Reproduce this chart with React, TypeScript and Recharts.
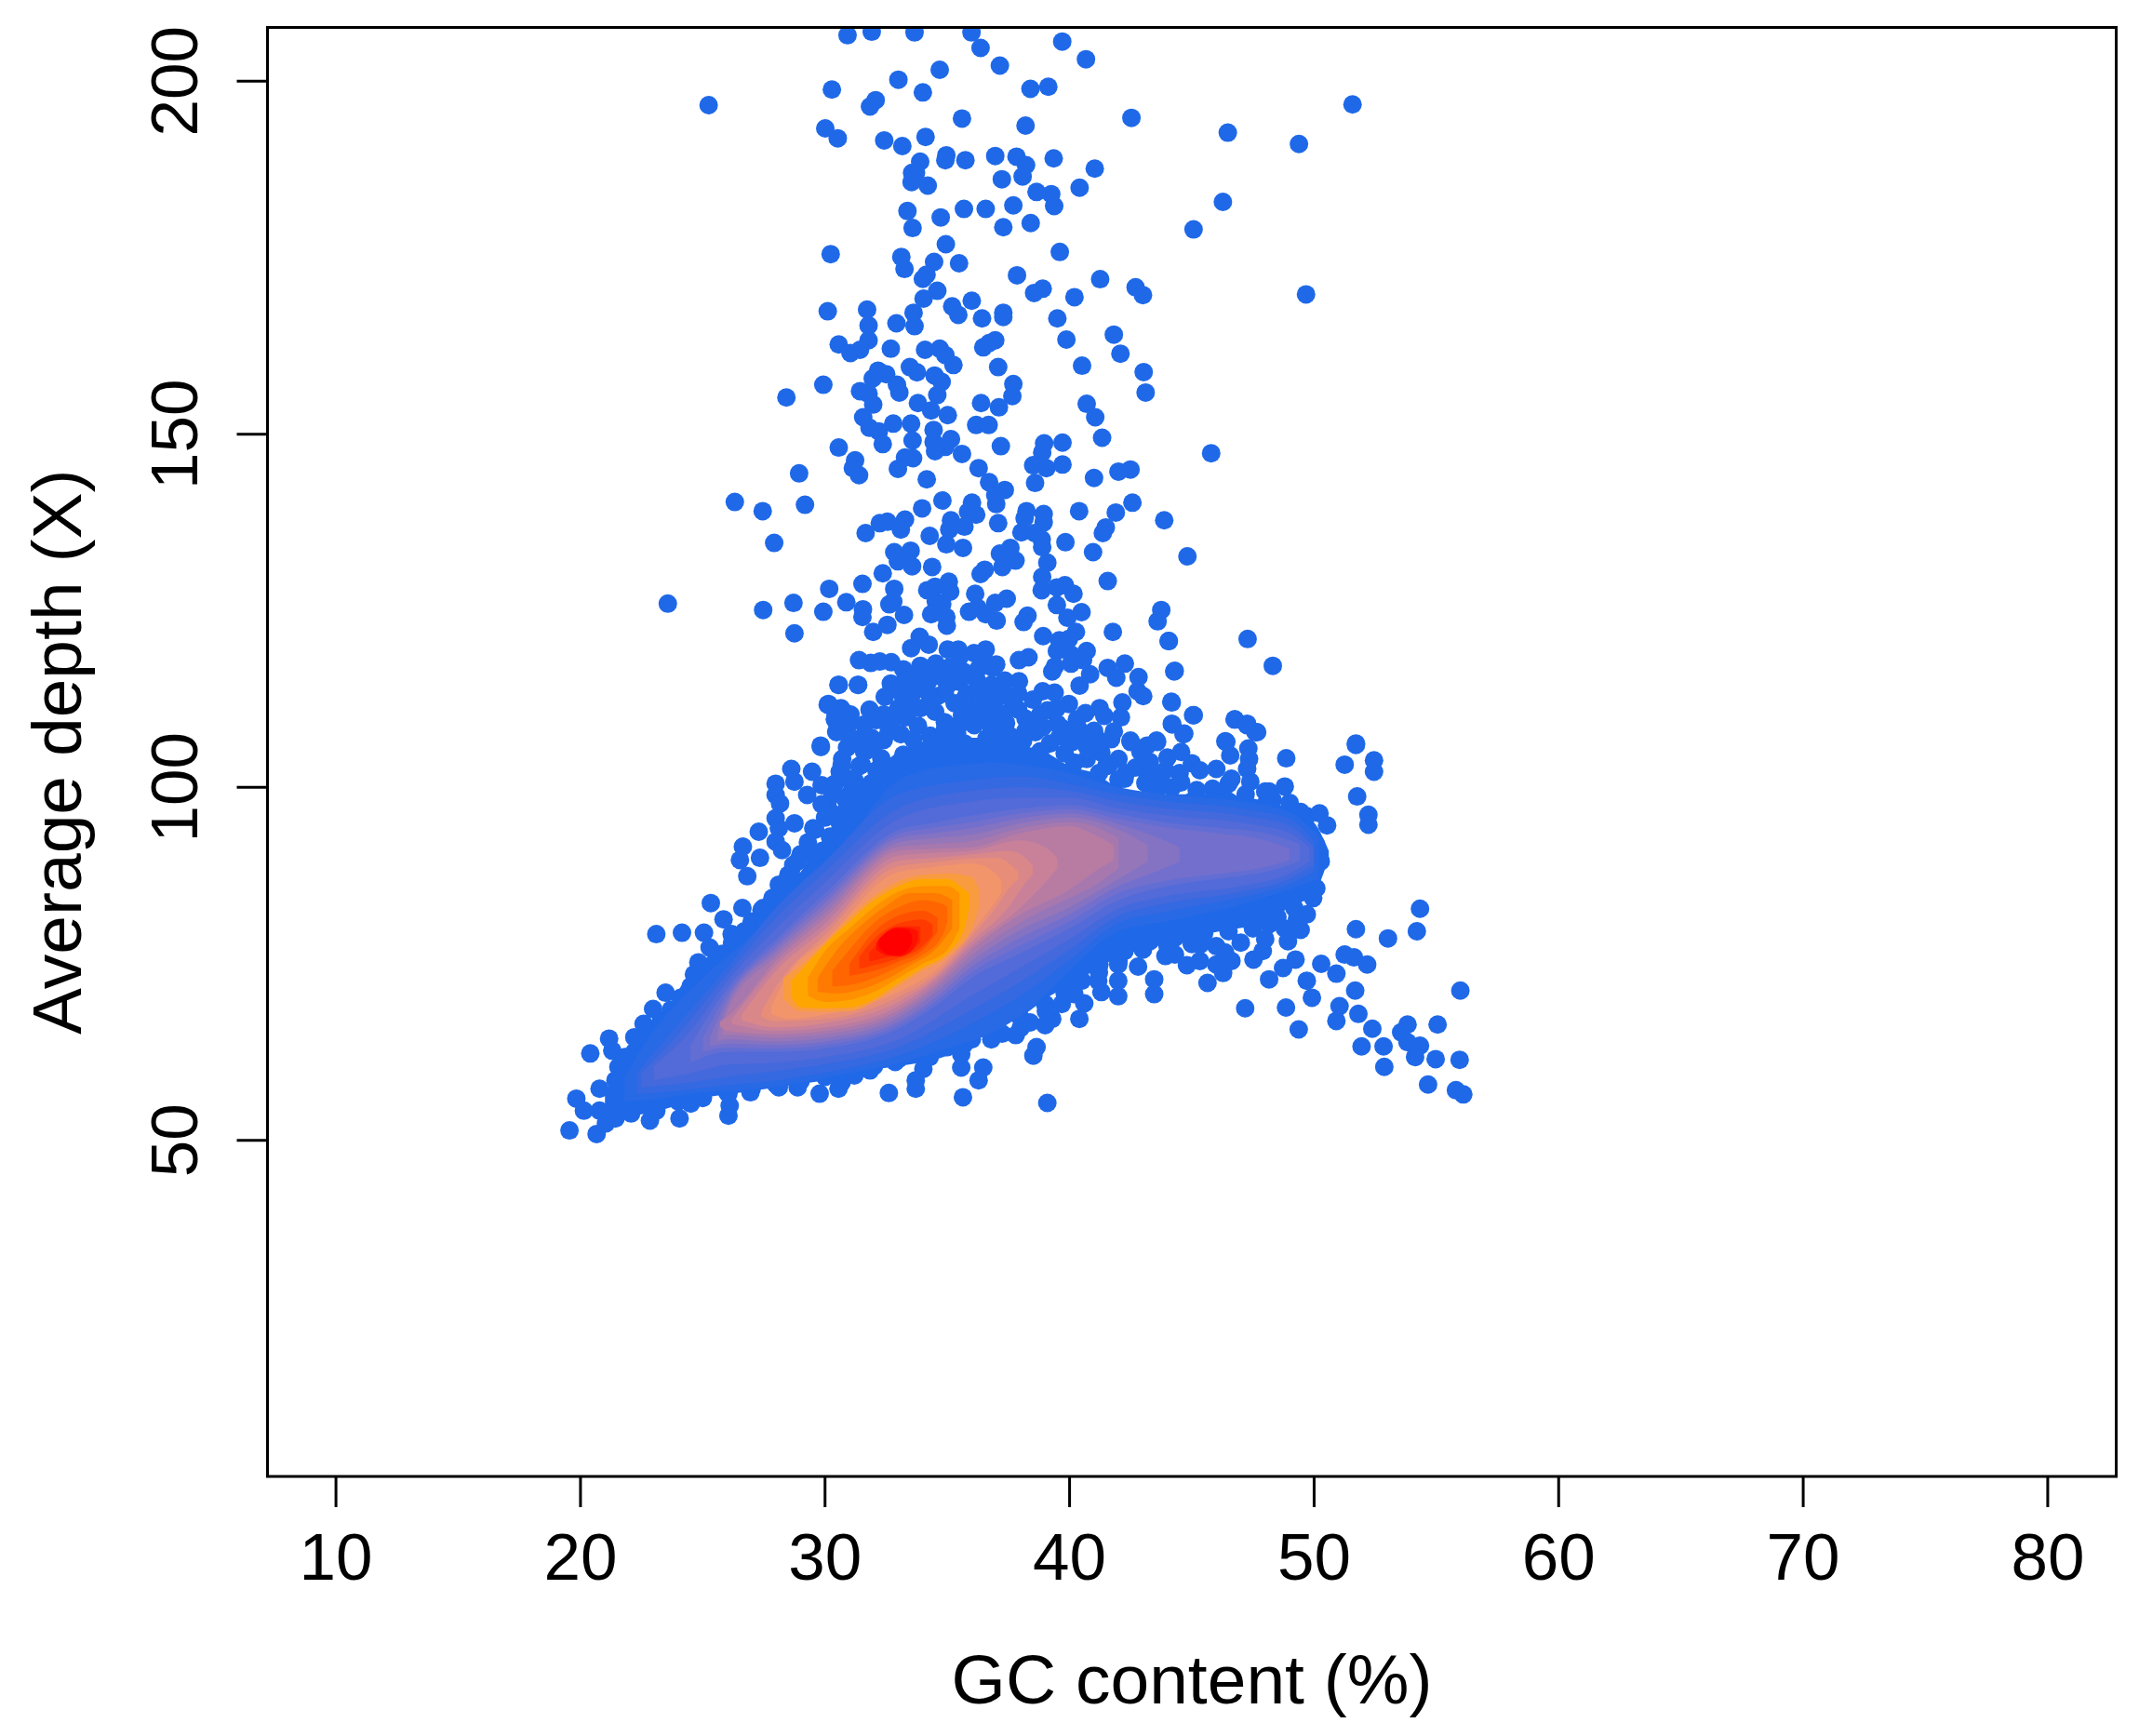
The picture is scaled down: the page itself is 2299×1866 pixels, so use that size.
import { ComposedChart, Area, Scatter, XAxis, YAxis, ReferenceArea } from "recharts";

type Pair = [number, number];
type Span = [number, number, number]; // x, low, high

const X_TICKS = [10, 20, 30, 40, 50, 60, 70, 80];
const Y_TICKS = [50, 100, 150, 200];

// sparse points above the main cloud
const SPARSE_TOP: Pair[] = [
  [30.92,206.5],[31.91,207],[33.66,206.9],[35.99,206.9],[36.36,204.7],[39.7,205.6],[40.67,203.1],[37.15,202.2],[34.69,201.6],[33,200.2],
  [34,198.4],[30.28,198.8],[38.4,198.9],[39.13,199.2],[25.24,196.6],[51.57,196.7],[32.07,197.3],[31.84,196.4],[35.6,194.7],[38.2,193.7],
  [42.53,194.8],[30.01,193.3],[30.52,191.9],[32.42,191.6],[33.16,190.8],[34.11,192.1],[46.47,192.7],[49.38,191.1],[34.96,189.5],[34.92,188.8],
  [35.74,188.8],[36.96,189.4],[37.83,189.3],[38.22,188.1],[39.35,189.05],[41.03,187.6],[33.89,188.6],[33.72,187],[33.56,187],[33.54,185.7],
  [34.2,185.2],[37.23,186.1],[38.08,186.5],[38.65,184.3],[39.25,184],[39.37,182.3],[40.41,184.9],[46.27,182.9],[45.07,179],[33.37,181.6],
  [34.73,180.7],[35.68,181.9],[36.57,181.9],[37.7,182.4],[33.58,179.2],[37.29,179.3],[38.41,179.9],[34.94,176.9],[30.23,175.5],[39.6,175.8],
  [33.12,175.1],[33.25,173.4],[34.46,174.4],[35.48,174.2],[37.85,172.5],[34.15,172.6],[34,172],[41.25,171.95],[42.7,170.8],[43,169.7],
  [38.9,170.6],[38.55,170],[40.2,169.4],[34.59,170.3],[34.03,169.2],[49.67,169.8],[35.2,168.1],[35.45,166.9],[36,168.9],[36.42,166.4],
  [37.29,167.2],[37.29,166.6],[39.5,166.4],[30.11,167.4],[31.72,167.65],[31.78,165.4],[33.62,167.2],[32.92,165.7],[33.66,165.3],[31.78,163.3],
  [30.56,162.7],[31.04,161.5],[31.43,161.95],[32.69,162.1],[34.09,161.95],[34.69,162.1],[34.92,161.2],[35.25,159.8],[36.47,162.3],[36.96,163.3],
  [36.71,162.9],[39.87,163.4],[41.81,164.1],[42.08,161.4],[37.08,159.5],[43.03,158.8],[43.11,155.9],[40.51,159.7],[33.47,159.5],[33.76,158.75],
  [32.17,159],[32.5,158.5],[31.95,157.9],[34.48,158.3],[34.77,157.4],[32.94,157],[33.04,155.9],[37.7,157.1],[37.66,155.4],[34.59,155.55],
  [29.93,157],[28.42,155.2],[31.43,156.1],[31.78,155.7],[31.97,154.2],[33.8,154.4],[34.34,153.35],[35.02,152.7],[36.38,154.4],[37.11,153.8],
  [40.7,154.3],[41.05,152.4],[31.56,152.4],[32.79,151.5],[33.52,151.5],[36.18,151.3],[36.69,151.3],[34.44,150.6],
];

const SPARSE_MID: Pair[] = [
  [31.82,150.9],[32.2,150.4],[33.58,149.1],[32.36,148.6],[30.56,148.1],[41.33,149.5],[38.96,148.7],[39.71,148.8],[35.15,149.3],[34.44,148.9],
  [34.92,148.2],[34.5,147.6],[37.19,148.3],[35.6,147.2],[45.79,147.3],[38.88,147.4],[31.23,146.3],[33.27,146.7],[33.6,146.6],[32.98,145.1],
  [36.28,145.2],[38.51,145.6],[39.05,145.2],[39.71,145.7],[31.14,145.2],[31.39,144.2],[28.94,144.45],[34.16,143.6],[42.49,145],[42,144.7],
  [41,143.8],[38.59,143.1],[36.71,143.2],[37.35,142.1],[36.96,141.4],[37,140.1],[34.8,140.6],[42.57,140.3],[26.31,140.4],[29.18,140],
  [27.45,139.1],[41.89,138.9],[33.97,139.5],[36.01,140.3],[35.85,139],[36.18,138.6],[38.24,139.1],[38.94,138.7],[38.16,138.1],[40.39,139.1],
  [43.87,137.8],[35.15,137.8],[33.27,137.9],[32.24,137.4],[32.55,137.6],[33.1,136.5],[35.7,136.9],[35.08,136.5],[37.08,137.4],[38.94,137.5],
  [41.48,136.8],[41.36,136],[31.66,136],[38.03,136.1],[38.57,136],[34.28,135.6],[27.92,134.6],[34.96,134.4],[35.64,133.9],[38.86,135.1],
  [38.88,134],[39.83,134.7],[40.96,133.3],[44.82,132.7],[37.58,133.9],[37.15,133.1],[37.79,132.1],[37.25,131.2],[32.83,133.3],[33.5,133.5],
  [32.98,132],[33.56,131.3],[39.09,131.8],[34.38,131.2],[36.53,130.8],[36.36,130.2],[32.36,130.3],[38.88,129.8],[41.56,129.2],[31.53,128.8],
  [30.17,128.1],[35.06,129.1],[32.83,128.1],[34.18,127.9],[34.5,128.4],[35.12,127.7],[36.14,127.4],[38.86,127.9],[39.48,128.3],[39.81,128.6],
  [40.16,127.4],[37.43,126.7],[23.57,126],[28.71,126.1],[30.87,126.2],[32.79,126.3],[32.63,125.9],[34.53,126.3],[34.79,125.9],[36.96,126.1],
  [39.48,125.8],[43.75,125.1],[43.6,123.5],[27.47,125.1],[29.93,124.85],[31.55,125.2],[31.53,124.1],[33.23,124.4],[35.89,124.85],[36.24,125.4],
  [36.57,124.5],[34.34,124.5],[34.96,124.1],[37.02,123.6],[38.28,124.3],[38.12,123.4],[40.49,124.8],[39.91,124],[28.75,121.8],[32.55,123],
  [31.97,122],[34.98,122.9],[41.77,122],[38.92,121.4],[40.26,122],[39.58,120.8],[39.97,121],[44.06,120.7],[47.28,121],[33.87,121.3],
  [34.24,120.2],[33.52,119.7],[35.02,119.5],[35.45,119.5],[36.57,119.5],[36.09,119],[39.48,119.3],[40.7,119.3],[40.06,118.8],[38.32,118.4],
  [37.93,118],[31.39,118],[31.87,117.6],[32.24,117.8],[32.71,117.7],[48.31,117.2],[34.53,117.5],[35.5,118.4],[36.47,118],[36.86,116.9],
  [39.4,117.1],[39.29,116.4],[40.06,117.5],[40.55,118],[41.56,116.9],[42.26,117.5],[41.91,115.5],[40.84,116],[42.82,115.6],[44.28,116.4],
  [40.41,114.4],[30.56,114.5],[31.35,114.5],[32.69,114.7],[33.52,115.8],[34.15,116.2],[35.5,114.9],[37.35,115.1],[37.93,115],[37.15,113.6],
  [36.47,113.2],[38.9,113.6],[39.39,113.4],[39.97,111.8],[42.78,113.6],[43.01,112.9],[44.16,112.1],[42.16,112],[41.23,111.2],[40.65,110.5],
  [41.42,110.1],[42.1,109.9],[45.05,110.2],[46.76,109.6],[47.25,108.8],[47.67,107.8],[44.2,108.9],[44.66,107.5],[51.71,106.2],[46.37,106.5],
  [32.44,112.8],[30.11,111.7],[30.65,111.2],[31.04,110.3],[30.4,109.6],[30.46,107.9],[30.94,108.8],[31.82,111],[32.4,110.3],[32.5,109.2],
  [29.82,105.9],[31.23,106.8],[31.72,107],[33.37,110.3],[38.8,110.3],[38.7,109.2],[39.48,111.2],[37.21,110.3],[39.73,108.3],[40.36,108.3],
  [41.09,107],[41.81,107.9],[42.49,106.6],[43.56,106.6],[43.17,105.9],
];

// packed points just above the ridge
const DENSE_CROWN: Pair[] = [
  [33.1,113.4],[33.5,112.1],[34.1,113.8],[33.9,111.2],[34.6,112.9],[35,114.4],[35.3,111.9],[34.5,110.7],[35.8,113.2],[36.2,111.3],
  [36.6,112.6],[33.3,109.9],[33.8,108.7],[34.9,109.2],[35.6,110.2],[36.1,108.8],[36.9,110.6],[37.4,109.1],[37.7,111.6],[38.2,109.7],
  [38.6,107.8],[39.1,110.9],[37,107.7],[35.4,107.6],[34.3,107.3],[33.1,107.5],[32.7,108.8],[32.4,106.7],[39.6,107.2],[38.1,106.6],
  [36.6,106.9],[40.1,106.4],[40.7,105.8],[41.3,104.9],[42,104],[42.7,102.8],[43.5,101.8],[31.7,105.2],[32.3,104.1],[31.5,103.2],
  [32.1,102.4],[31.2,100.2],[31.9,100.6],[31.4,97.3],[30.9,95],[37.9,113.3],[38.5,112.4],[36.4,113.9],[35.1,115.5],[33.8,115],
  [34.7,115.7],[39.5,109],[40.3,109.6],[41,108],[41.7,106.8],[42.9,105],[44,104.2],[45,103.4],[46,102.6],[44.5,102],
  [43.2,101.5],[46.5,100.5],[48,99.4],[49,97.8],[49.7,95.9],
  [33.2,116.7],[33.9,117.2],[34.5,116.8],[35.1,117],[35.7,116.3],[36.3,116.9],[37,117.4],[33.3,115.5],[34.2,114.9],[34.9,113.3],
  [35.6,115.8],[36.2,115.2],[36.8,114.5],[37.4,113],[37.9,111],[33,111.2],[32.8,110.3],[33.6,113.4],[34.3,112.2],[35.7,112.5],
  [36.9,111.8],[37.3,110.4],[38.2,108],[38.9,108.5],[39.2,106.2],[39.9,107.9],[40.5,107.2],[41.2,106.2],[34.9,108.2],[35.5,108.9],
  [36.3,110],[36.8,108.5],[37.6,107.2],[33.6,106.8],[34.6,106.5],[35.7,106.2],[36.9,105.9],[37.9,105.5],[38.8,105.1],[39.8,104.8],
  [40.7,104],[41.5,103],[42.3,102],[43.1,100.6],[44.2,100],[45.2,99.6],[46.2,99.2],[47.2,99],[48.3,98.2],[49.2,96.3],
  [32,106],[32.6,107.8],[31.6,108.9],[32.1,109.5],[33.2,104.6],[40.2,103.5],[41.2,102],[42,101.1],
];

// upper-left edge of the cloud
const LEFT_EDGE: Pair[] = [
  [21.8,60.8],[22.2,62.5],[22.5,64],[22.9,65.5],[23.3,67],[23.7,68.5],[24.1,70.2],[24.5,71.8],[24.9,73.3],[25.4,74.9],
  [25.8,76.4],[26.2,78],[26.7,79.6],[27,81],[27.4,82.6],[28.1,84.3],[28.3,86],[28.5,87.6],[28.7,89],[29,90.5],
  [29.3,92.2],[29.6,94],[30,95.7],[30.1,97.5],[30.3,99],[30.4,100.5],[30.6,102.2],[30.7,104],[30.9,105.6],[31,107],
  [22.5,61],[23,63],[23.4,65],[23.9,67],[24.4,69],[25,71],[25.5,73],[26,75],[26.5,77],[27,79],
  [27.5,81],[28,83],[28.9,85],[29.3,87],[29.6,89],[29.9,91],[30.2,93],[30.6,95],[30.9,97],[31,99],
  [31.2,101],[31.4,103],[31.6,105],[31.9,107],
];

// lower edge of the cloud
const LOWER_EDGE: Pair[] = [
  [24,55.5],[25,56],[26,56.8],[27,57.3],[28,57.9],[29,58.4],[30,59],[31,59.6],[32,60.5],[33,61.5],
  [34,62.5],[35,63.2],[36,64.3],[37,65.9],[38,67.3],[39,69.3],[39.8,70.8],[40.5,72.6],[41.2,73.8],[42,75.4],
  [43,77],[44,77.6],[45,77.8],[46,77.5],[47,78],[48,78.5],[48.8,80],[49.3,81.4],[44.5,79.2],[45.5,79.3],
  [46.5,79.6],[47.5,80],[48.5,81.6],[43.5,78.8],[42.6,78],[38,65.9],[36.8,64.3],[37.8,64.9],[39,66.3],[40.6,69.4],
  [41.3,71],[42.8,74.6],[44.8,74.8],[46,74.9],
];

// jagged rim of the cloud and stragglers below it
const RIM_POINTS: Pair[] = [
  [19.55,51.4],[20.66,50.9],[21.04,52.4],[21.43,53.1],[19.83,55.9],[20.14,54.2],[20.78,57.3],[20.4,62.3],[21.17,64.4],[21.3,62.7],
  [20.78,54.2],[21.68,54.2],[22.84,52.8],[24.05,53.1],[22.07,53.8],[23.1,54.2],[26.05,53.5],[26.1,54.9],[24.51,55.2],[25,56.1],
  [26.05,56.6],[26.95,56.8],[28.11,57.5],[28.88,57.5],[29.78,56.6],[30.55,57.3],[30.68,58.2],[32.61,56.7],[33.71,57.3],[33.71,58.5],
  [35.64,56.1],[39.09,55.3],[36.28,58.5],[36.47,60.3],[35.57,60.3],[34.02,60.1],[32.87,61.1],[31.84,59.9],[31.2,59.2],[34.28,61.8],
  [35.57,62.2],[35.69,63.6],[37.24,65.1],[38.65,63.2],[38.52,62],[38.39,66.7],[39.29,67.2],[40.4,67.2],[39.03,68.3],[39.68,69.3],
  [40.19,70.7],[41.17,72.6],[41.99,72.6],[41.99,70.4],[43.46,72.8],[43.46,70.7],[41.99,74.9],[43.92,76.1],[44.31,76.3],[45.33,75.4],
  [45.64,72.3],[46.28,73.7],[47.18,68.7],[49.37,65.7],[48.85,68.8],[50.91,66.9],[51.04,69],[51.81,67.9],[52.38,65.8],[53.82,66.4],
  [55.05,66.4],[53.56,65.3],[54.33,63.4],[53.82,63.9],[51.94,63.3],[52.84,63.3],[54.13,61.8],[54.97,61.5],[55.95,61.4],[52.87,60.4],
  [54.66,57.9],[55.8,57.1],[56.1,56.5],[55.98,71.2],[54.33,82.8],[54.2,79.6],[53.02,78.6],[51.71,79.9],[51.25,76.3],[51.63,75.9],
  [52.17,74.9],[50.29,75],[50.91,73.6],[51.68,71.2],[49.91,70.2],[49.7,72.6],[48.16,72.8],[48.73,74.4],[49.24,75.6],[47.52,75.6],
  [46.36,76.6],[46.62,75.4],[47.9,76.8],[48.93,78.2],[49.45,79.8],[48.16,80.6],[47.39,81],[45.33,77.7],[44.31,78.7],[43.28,78.2],
  [42.25,76.8],[41.22,74.9],[40.19,72.1],[49.7,82],[50.09,85.7],[49.96,84.3],[49.19,82.9],[48.42,83.4],[50.27,89.5],[50.09,91.8],
  [50.53,94.6],[50.22,96.3],[48.86,104.1],[48.8,100.1],[48.16,99.4],[49.45,96.5],[45.85,99.8],[44.56,100.7],[43.79,100.3],[47.39,100.8],
  [46.62,101.2],[47.31,105.5],[47.34,104],[47.26,102.6],[46.41,106.4],[46.57,104.5],[46.75,109.6],[47.6,107.8],[47.26,109],[45.08,110.2],
  [44.18,109],[44.69,107.6],[44.18,112],[44.3,116.5],[44.05,120.7],[45.33,102.4],[44.56,105],[43.92,102.4],[43.28,103.6],[43.58,106.4],
  [42.5,106.4],[41.6,103.1],[42.25,101.2],[51.71,106],[51.25,103.2],[52.45,103.8],[52.45,102.2],[51.76,98.7],[52.22,96.1],[52.22,94.7],
  [23.1,79.2],[24.15,79.4],[25.05,79.4],[25.33,83.6],[26.62,82.9],[27.47,82.9],[25.85,81.3],[26.18,79.2],[26.44,78.2],[25.28,77.3],
  [25.8,76.3],[24.82,75.2],[24.64,73.5],[23.48,70.9],[24.38,70.9],[22.97,68.6],[22.58,66.5],[22.2,64.6],[21.81,61.8],[21.55,60.4],
  [21.43,58.5],[26.52,89.7],[27.34,90],[26.64,91.6],[26.82,87.4],[27.29,93.7],[28.11,94.2],[27.98,92.3],[28.24,91.1],[27.98,95.6],
  [28.75,94.9],[29.52,94.2],[27.98,100.5],[27.98,98.9],[28.16,97.7],[28.62,102.6],[29.47,102.2],[28.75,100.8],[29.86,100.3],[29.27,98.9],
  [29.86,97.6],[29.83,105.7],[30.55,114.5],[31.35,114.5],[30.14,111.8],[30.42,110.6],[30.81,110.6],[30.47,107.8],[30.94,109.2],[30.68,103.1],
  [30.94,101.2],[30.81,98.4],[30.42,96.1],[30.68,92.3],[28.62,87.6],[28.11,86.2],[28.88,89.5],[29.52,90.7],[30.17,90.9],[27.85,84.3],
  [43.5,99],[45,98],[46.5,98],[48,97.5],[49.3,94],
];

// solid cloud and its density contours, lowest to highest
const LEVEL_0: Span[] = [[21,53.5,57],[22,53.5,62],[23,54,67],[24,55,70],[25,56,74],[26,56.5,77],[27,57,80],[28,57.5,84],[29,58,88],[30,58.5,93],[31,59,98],[32,60,102],[33,60.5,105],[35,62,107],[37,66,107],[38,67.5,106],[39,70,105],[40,72,103],[41,74,102],[42,76,100],[44,78,99],[46,79.5,99],[48,81,98],[49,83,97],[50,85,95],[50.6,90,91]];
const LEVEL_1: Span[] = [[21.8,55.5,59],[23,55.8,65.5],[25,56.8,73],[27,57.2,79],[29,58.2,86],[31,59.5,93],[33,60.9,101],[35,63,103],[37,65.5,103.5],[38.5,69,103],[40,74,102],[42,79.6,100],[44,81,99],[47,83.4,98],[49,85.5,96.5],[50.2,87,93]];
const LEVEL_2: Span[] = [[22.3,56.5,59.5],[24,57,66.5],[26,57.8,74.5],[28,58.5,83],[30,59.6,89.5],[33,62,99],[36,66.5,101],[38,70.5,101.5],[40,75.5,100.5],[42,80.8,99],[44,82.4,98],[47,84.4,97],[49,86.3,95.5],[50,88,92.5]];
const LEVEL_3: Span[] = [[22.5,57.5,59.5],[24,58,65],[26,59,73.5],[28,59.8,81.5],[30,60.8,88],[33,63.2,97],[36,68.5,99.5],[38,72.5,100],[40,77,99.5],[42,81.8,98],[44,83.6,97],[47,85.2,96],[49,87,94.5],[50,89,91.5]];
const LEVEL_4: Span[] = [[23,58.5,60.5],[24.5,59.5,65.5],[26,60.7,72.5],[28,61,80],[30,61.8,86.5],[33,64.3,95.5],[36,70.5,98],[38,74.5,98.5],[40,78.5,98.5],[42,82.8,97],[44,84.6,96],[47,86,95],[49,87.8,93.5],[49.8,89.5,91.5]];
const LEVEL_5: Span[] = [[24.5,61,63.5],[26,62.5,71.5],[28,62.5,78.5],[30,63,85],[33,65.8,94],[34.5,69,95],[36,73,96],[38,76.5,97],[40,80,97.5],[42,84,96.2],[44,86,95],[46,87,94.3],[48,88,93.5],[49.4,89.5,92]];
const LEVEL_6: Span[] = [[25,62.5,64.5],[26,63.1,70.7],[28,63,77.9],[30,63.5,84.3],[33,66.3,93.4],[34.5,69.6,94.3],[36,73.8,95.1],[38,77.6,96.3],[40,81,96.9],[42,85,95.5],[44,86.8,94.3],[46,87.7,93.5],[48,88.7,92.5],[49,89.7,91.3]];
const LEVEL_7: Span[] = [[25.3,63.3,64.7],[26,63.7,69.9],[28,63.5,77.3],[30,64,83.6],[33,66.8,92.8],[34.5,70.2,93.5],[36,74.6,94.2],[38,78.7,95.6],[40,82,96.3],[42,86,94.8],[43.5,88,93],[44.5,89.5,91.5]];
const LEVEL_8: Span[] = [[25.6,64,65.2],[26,64.3,69.1],[28,64,76.7],[30,64.5,82.9],[33,67.4,92.2],[34.5,70.9,92.8],[36,75.4,93.3],[38,79.8,94.9],[40,83,95.7],[42,87,94],[43.2,89.5,91.8]];
const LEVEL_9: Span[] = [[25.8,64.9,66],[26,64.9,68.3],[28,64.5,76.1],[30,65,82.2],[33,67.9,91.6],[34.5,71.5,92],[36,76.2,92.4],[38,80.9,94.2],[40,84.3,95.1],[41,86,94.5],[42,88.5,92.8]];
const LEVEL_10: Span[] = [[25.7,66.2,66.8],[26,65.5,67.5],[28,65,75.5],[30,65.5,81.5],[33,68.4,91],[34.5,72,91.3],[36,77,91.5],[38,82,93.5],[40,85.5,94.5],[41,88,93.3],[41.8,89.7,91.8]];
const LEVEL_11: Span[] = [[26.2,66.5,67.2],[28,65.5,74.8],[30,66,80.7],[33,69,90.3],[34.5,72.6,90.7],[36,77.6,91],[38,83,92.5],[39,86.5,91.5],[39.5,88.5,90]];
const LEVEL_12: Span[] = [[26.6,67,67.8],[28,66,74],[30,66.6,79.9],[33,69.6,89.6],[34.5,73,90],[36,78.2,90.5],[37.5,83,91],[38.2,86.5,90],[38.5,87.7,88.8]];
const LEVEL_13: Span[] = [[27.4,67.5,68.2],[28,66.9,71.8],[30,67.2,79.1],[33,70.3,88.8],[34.5,73.4,89.4],[36,78.9,89.9],[37,83,90],[37.6,86,89],[37.9,87,88]];
const LEVEL_14: Span[] = [[27.8,67.9,68.9],[28.5,67.2,73.6],[30,67.8,78.3],[33,71,88],[34.5,74,88.7],[36,79.5,89.2],[36.9,83.5,88],[37.2,85,86.8]];
const LEVEL_15: Span[] = [[28.3,70,73],[29,68.3,74.8],[30,68.2,78],[31,68.3,81.6],[32,69.6,84.6],[33,71.8,86.7],[34,74,87.6],[35,76,87.8],[36,80,87.3],[36.3,83,85.5]];
const LEVEL_16: Span[] = [[28.6,70.5,72.5],[29,68.8,74],[30,68.7,77.8],[31,68.8,81],[32,70,84],[33,72.3,86],[34,74.5,87],[35,76.5,87],[35.7,80,85.5],[35.9,83,85]];
const LEVEL_17: Span[] = [[29.3,70.5,73],[30,69.6,76.8],[31,69.9,80],[32,71,83],[33,73,85.2],[34,75,86],[35,77,86],[35.5,80,85]];
const LEVEL_18: Span[] = [[29.7,71,73],[30.5,70.8,77],[31.5,71.4,80.5],[32.5,72.8,83.2],[33.5,74.8,85],[34.5,77,85],[35.2,80,84]];
const LEVEL_19: Span[] = [[30.3,71.8,74],[31,72,77],[32,73,80.8],[33,74.6,83],[34,76.3,84],[34.8,79,83.5],[35,81,83]];
const LEVEL_20: Span[] = [[31,73.3,75],[32,74,79.5],[33,75.3,81.8],[34,77,82.5],[34.6,79.5,81.5]];
const LEVEL_21: Span[] = [[31.4,74.3,76],[32,74.8,78.5],[33,75.8,80.7],[34,77.5,81.3],[34.4,79,80.5]];
const LEVEL_22: Span[] = [[31.8,75.3,76.5],[32.5,75.9,79],[33.3,76.5,80.3],[33.9,78,80.3]];
const LEVEL_23: Span[] = [[32.1,77,78],[32.5,76.2,79.5],[33,76,80.2],[33.6,77,80],[33.8,78.5,79.5]];
const LEVEL_24: Span[] = [[32.2,77.3,78.5],[32.6,76.3,79.6],[33,76.2,80],[33.4,77,79.8],[33.55,78,79]];

const LEVEL_COLORS = [
  "#1f69e8", "#2869e5", "#3569e1", "#4469dc", "#526bd8", "#626ed3", "#736fcd", "#8473c2", "#9576b8",
  "#a678ae", "#b87ca3", "#c9819a", "#d98788", "#e88e78", "#f2956a", "#f99c40", "#ffa500", "#ff9000",
  "#ff7a00", "#ff6500", "#ff5000", "#ff3a00", "#ff2600", "#ff1000", "#ff0000",
];

const LEVELS = [
  LEVEL_0, LEVEL_1, LEVEL_2, LEVEL_3, LEVEL_4, LEVEL_5, LEVEL_6, LEVEL_7, LEVEL_8, LEVEL_9, LEVEL_10, LEVEL_11, LEVEL_12,
  LEVEL_13, LEVEL_14, LEVEL_15, LEVEL_16, LEVEL_17, LEVEL_18, LEVEL_19, LEVEL_20, LEVEL_21, LEVEL_22, LEVEL_23, LEVEL_24,
];

const DOT_GROUPS = [SPARSE_TOP, SPARSE_MID, DENSE_CROWN, LEFT_EDGE, LOWER_EDGE, RIM_POINTS];

const BLUE = "#1f69e8";
const FONT = '"Liberation Sans", Arial, sans-serif';
const TICK_SIZE = 71;
const LABEL_SIZE = 75;

const toPoints = (pairs: Pair[]) => pairs.map(([x, y]) => ({ x, y }));
const toBand = (spans: Span[]) => spans.map(([x, low, high]) => ({ x, band: [low, high] }));

const dot = (props: any) => <circle cx={props.cx} cy={props.cy} r={10} fill={BLUE} />;

function RotatedTick({ x, y, payload }: any) {
  return (
    <text
      x={x - 40}
      y={y}
      transform={`rotate(-90 ${x - 40} ${y})`}
      textAnchor="middle"
      fontFamily={FONT}
      fontSize={TICK_SIZE}
      fill="#000"
    >
      {payload.value}
    </text>
  );
}

export default function App() {
  return (
    <div style={{ position: "absolute", left: 0, top: 0, width: 2299, height: 1866, background: "#fff" }}>
      <ComposedChart
        width={2299}
        height={1866}
        margin={{ top: 29.5, right: 24.5, bottom: 0, left: 0 }}
      >
        <XAxis
          type="number"
          dataKey="x"
          domain={[7.2, 82.8]}
          ticks={X_TICKS}
          allowDataOverflow
          height={279}
          tickSize={33}
          tickMargin={28}
          axisLine={false}
          tickLine={{ stroke: "#000", strokeWidth: 3 }}
          tick={{ fill: "#000", fontSize: TICK_SIZE, fontFamily: FONT }}
          label={{
            value: "GC content (%)",
            position: "insideBottom",
            offset: 35,
            fill: "#000",
            fontSize: LABEL_SIZE,
            fontFamily: FONT,
          }}
        />
        <YAxis
          type="number"
          dataKey="y"
          domain={[2.4, 207.6]}
          ticks={Y_TICKS}
          allowDataOverflow
          width={287.5}
          tickSize={33}
          axisLine={false}
          tickLine={{ stroke: "#000", strokeWidth: 3 }}
          tick={<RotatedTick />}
          label={{
            value: "Average depth (X)",
            angle: -90,
            position: "insideLeft",
            offset: 60,
            fill: "#000",
            fontSize: LABEL_SIZE,
            fontFamily: FONT,
            style: { textAnchor: "middle" },
          }}
        />
        {DOT_GROUPS.map((pairs, i) => (
          <Scatter key={i} data={toPoints(pairs)} fill={BLUE} shape={dot} zIndex={50} isAnimationActive={false} />
        ))}
        {LEVELS.map((spans, i) => (
          <Area
            key={i}
            data={toBand(spans)}
            dataKey="band"
            type="monotone"
            stroke="none"
            fill={LEVEL_COLORS[i]}
            fillOpacity={1}
            dot={false}
            activeDot={false}
            zIndex={i === 0 ? 40 : 100}
            isAnimationActive={false}
          />
        ))}
        <ReferenceArea
          x1={7.2}
          x2={82.8}
          y1={2.4}
          y2={207.6}
          fill="none"
          stroke="#000"
          strokeWidth={3}
          ifOverflow="visible"
        />
      </ComposedChart>
    </div>
  );
}
